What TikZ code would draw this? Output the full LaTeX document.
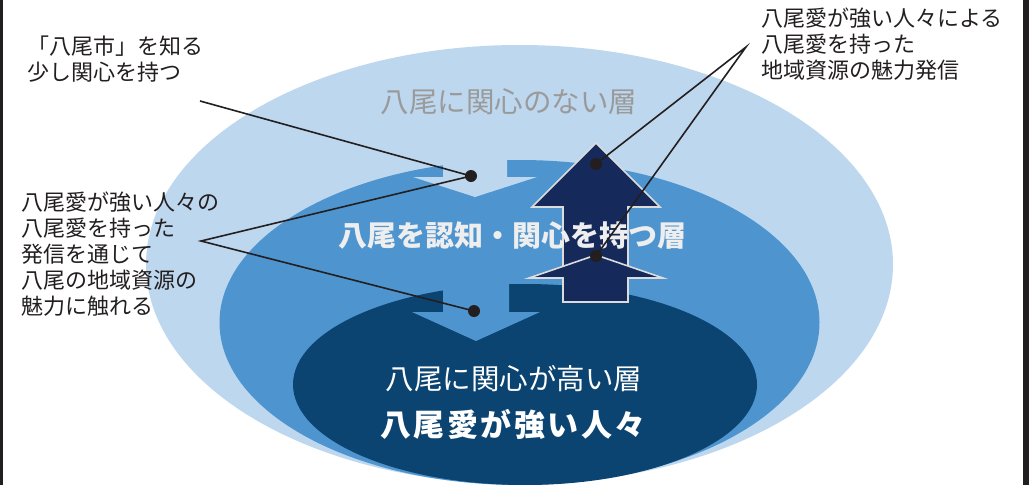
\documentclass[tikz,border=0pt]{standalone}
\usepackage{fontspec}
\setmainfont{Noto Sans CJK JP}
\usetikzlibrary{shapes.geometric}
\definecolor{lightblue}{HTML}{BDD7EE}
\definecolor{midblue}{HTML}{4E94CF}
\definecolor{deepblue}{HTML}{0B4470}
\definecolor{navy}{HTML}{15295A}
\definecolor{arrowedge}{HTML}{DCDCDC}
\definecolor{ink}{HTML}{231F20}
\definecolor{titlegray}{HTML}{9A9A9A}
\definecolor{paleword}{HTML}{EEEEEE}
\tikzset{
  layer/.style={ellipse, draw=none, inner sep=0pt, outer sep=0pt},
  label/.style={inner sep=0pt, align=left, text=ink, font=\fontsize{22}{26}\selectfont},
  leader/.style={draw=ink, line width=1.6pt},
  dot/.style={circle, fill=ink, inner sep=0pt, minimum size=12pt},
  uparrow/.style={fill=navy, draw=arrowedge, line width=1.6pt, line join=miter},
}
\begin{document}
\begin{tikzpicture}[x=1pt,y=-1pt]
\useasboundingbox (0,0) rectangle (1029,485);
\clip (0,0) rectangle (1029,485);
\fill[white] (0,0) rectangle (1029,485);
\fill[ink] (0,0) rectangle (3,485);
\fill[ink] (1023,0) rectangle (1029,485);
% layers
\node[layer, fill=lightblue, minimum width=747pt, minimum height=439pt] (outer) at (519.5,264.5) {};
\node[layer, fill=midblue, minimum width=600pt, minimum height=325pt] (mid) at (519.5,322.5) {};
% down arrow 1
\fill[lightblue] (443,150) -- (507,150) -- (507,177) -- (537,177) -- (475,197) -- (413,177) -- (443,177) -- cycle;
\node[layer, fill=deepblue, minimum width=464pt, minimum height=201pt] (inner) at (525,384.5) {};
% down arrow 2
\fill[midblue] (443,275) -- (509,275) -- (509,312) -- (540,312) -- (476,341) -- (412,312) -- (443,312) -- cycle;
% up arrows
\filldraw[uparrow] (596,143) -- (660,207) -- (628,207) -- (628,302) -- (563,302) -- (563,207) -- (532,207) -- cycle;
\filldraw[uparrow] (596,255) -- (663,278) -- (628,278) -- (628,302) -- (563,302) -- (563,278) -- (529,278) -- cycle;
% layer titles
\node[text=titlegray, inner sep=0pt, font=\fontsize{28.5}{30}\selectfont] (t1) at (509,102) {八尾に関心のない層};
\node[text=paleword, inner sep=0pt, font=\fontsize{29}{30}\selectfont\bfseries] (t2) at (512,236) {八尾を認知・関心を持つ層};
\node[text=white, inner sep=0pt, font=\fontsize{28.5}{30}\selectfont] (t3) at (514,379) {八尾に関心が高い層};
\node[text=white, inner sep=0pt, font=\fontsize{31}{32}\selectfont\bfseries\addfontfeature{LetterSpace=8}] (t4) at (513,424) {八尾愛が強い人々};
% side labels
\node[label, anchor=west] (l1) at (27,59.5) {「八尾市」を知る\\少し関心を持つ};
\node[label, anchor=west] (l2) at (21,254.5) {八尾愛が強い人々の\\八尾愛を持った\\発信を通じて\\八尾の地域資源の\\魅力に触れる};
\node[label, anchor=west] (l3) at (761,44) {八尾愛が強い人々による\\八尾愛を持った\\地域資源の魅力発信};
% dots
\node[dot] (d1) at (471,176) {};
\node[dot] (d2) at (474,311) {};
\node[dot] (d3) at (596,164) {};
\node[dot] (d4) at (596,256) {};
% leader vertices
\coordinate (a1) at (200,101);
\coordinate (v2) at (201,241);
\coordinate (v3) at (746,47);
\draw[leader] (a1) -- (d1.center);
\draw[leader] (d1.center) -- (v2) -- (d2.center);
\draw[leader] (d3.center) -- (v3) -- (d4.center);
\end{tikzpicture}
\end{document}
